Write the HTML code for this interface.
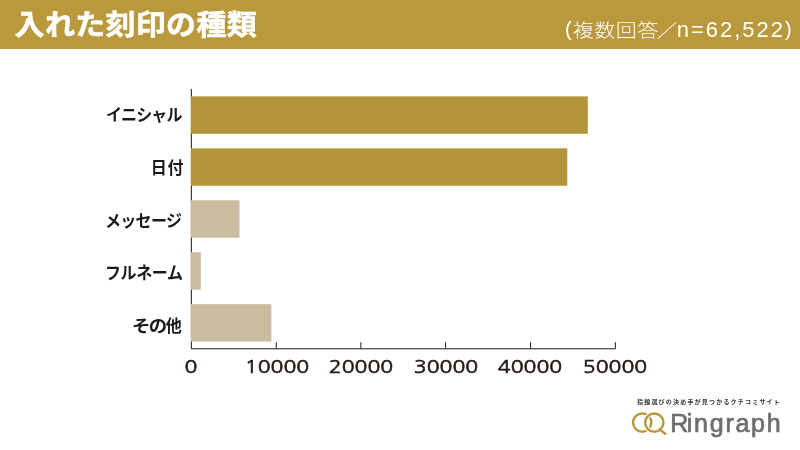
<!DOCTYPE html>
<html lang="ja">
<head>
<meta charset="utf-8">
<style>
html,body{margin:0;padding:0;}
body{width:800px;height:450px;overflow:hidden;background:#fff;position:relative;
font-family:"Liberation Sans","Noto Sans CJK JP",sans-serif;}
.hdr{position:absolute;left:0;top:0;width:800px;height:49px;background:#BA993D;}
.title{position:absolute;left:14.6px;top:7px;transform:scaleY(0.955);transform-origin:0 17px;font-family:"Noto Sans CJK JP",sans-serif;font-weight:700;font-size:30px;line-height:30px;letter-spacing:0.3px;color:#fff;-webkit-text-stroke:0.6px #fff;white-space:nowrap;}
.sub{position:absolute;left:565px;top:11px;font-family:"Liberation Sans","Noto Sans CJK JP",sans-serif;font-weight:400;font-size:22px;line-height:34px;color:#fff;white-space:nowrap;}
.sub .p{margin-right:1px;}
.sub .j{display:inline-block;position:relative;top:0.7px;transform:scaleY(0.88);transform-origin:50% 62%;font-family:"Noto Sans CJK JP",sans-serif;font-weight:300;font-size:21px;letter-spacing:0.6px;}
.sub .n{letter-spacing:2px;margin-left:-1.5px;}
.lbl{position:absolute;transform:scaleY(1.06);transform-origin:0 2px;font-family:"Noto Sans CJK JP",sans-serif;font-weight:700;font-size:16px;line-height:16px;color:#1a1a1a;white-space:nowrap;}
.xl{position:absolute;top:354.9px;width:100px;text-align:center;font-family:"NanumGothic","Liberation Sans",sans-serif;font-size:18px;line-height:24px;color:#231815;-webkit-text-stroke:0.6px #231815;transform:scaleX(1.18);transform-origin:50% 50%;}
.logo-tag{position:absolute;left:637px;top:397.3px;font-family:"Noto Sans CJK JP",sans-serif;font-weight:700;font-size:6px;line-height:10px;letter-spacing:1.2px;color:#333;white-space:nowrap;}
.logo-txt{position:absolute;left:670.3px;top:410.5px;font-family:"Liberation Sans",sans-serif;font-weight:400;font-size:25px;line-height:25px;letter-spacing:1.75px;color:#6e6e6e;-webkit-text-stroke:0.7px #6e6e6e;white-space:nowrap;}
</style>
</head>
<body>
<div class="hdr"></div>
<div class="title">入れた刻印の種類</div>
<div class="sub"><span class="p" style="font-size:20px;position:relative;top:-1px">(</span><span class="j">複数回答<span style="margin-left:-2.5px">／</span></span><span class="n">n=62,522<span style="font-size:20px;position:relative;top:-1px">)</span></span></div>

<svg style="position:absolute;left:0;top:0" width="800" height="450" viewBox="0 0 800 450">
  <g stroke="#231815" stroke-width="1" fill="none">
    <path d="M191.35 89 V348.8 H615.6"/>
    <path d="M276.25 342.2 V348.5 M360.9 342.2 V348.5 M445.6 342.2 V348.5 M530.6 342.2 V348.5 M615.35 342.2 V348.5"/>
  </g>
  <g>
  <rect x="191" y="96.35" width="396.8" height="37.45" fill="#B5943E"/>
  <rect x="191" y="148.30" width="376.3" height="37.45" fill="#B5943E"/>
  <rect x="191" y="200.25" width="48.5" height="37.45" fill="#CBBBA1"/>
  <rect x="191" y="252.20" width="9.8" height="37.45" fill="#CBBBA1"/>
  <rect x="191" y="304.15" width="80.4" height="37.45" fill="#CBBBA1"/>
  </g>
</svg>

<div class="lbl" style="left:106px;top:105px;letter-spacing:-0.9px">イニシャル</div>
<div class="lbl" style="left:150.75px;top:158px;letter-spacing:0.75px">日付</div>
<div class="lbl" style="left:104.9px;top:210.5px;letter-spacing:-0.65px">メッセージ</div>
<div class="lbl" style="left:104.9px;top:263px;letter-spacing:-0.35px">フルネーム</div>
<div class="lbl" style="left:131.8px;top:315.5px;letter-spacing:0.5px"><span style="display:inline-block;transform:scaleX(1.15);transform-origin:0 0;margin-right:4.9px;letter-spacing:-1.5px">その</span>他</div>

<div class="xl" style="left:141.4px">0</div>
<div class="xl" style="left:226.6px">10000</div>
<div class="xl" style="left:310.8px">20000</div>
<div class="xl" style="left:395.6px">30000</div>
<div class="xl" style="left:480.2px">40000</div>
<div class="xl" style="left:565.4px">50000</div>

<div class="logo-tag">指輪選びの決め手が見つかるクチコミサイト</div>
<svg style="position:absolute;left:628px;top:408px" width="42" height="32" viewBox="628 408 42 32">
  <circle cx="642.2" cy="422.6" r="9.1" fill="none" stroke="#BA993D" stroke-width="2.5"/>
  <circle cx="654.3" cy="422.6" r="9.1" fill="none" stroke="#fff" stroke-width="4.5"/>
  <circle cx="654.3" cy="422.6" r="9.1" fill="none" stroke="#BA993D" stroke-width="2.5"/>
  <path d="M659.6 429.3 L665.2 433.8" stroke="#BA993D" stroke-width="2.5" stroke-linecap="round"/>
</svg>
<div class="logo-txt"><span style="letter-spacing:-1.6px">R</span>ingraph</div>
</body>
</html>
